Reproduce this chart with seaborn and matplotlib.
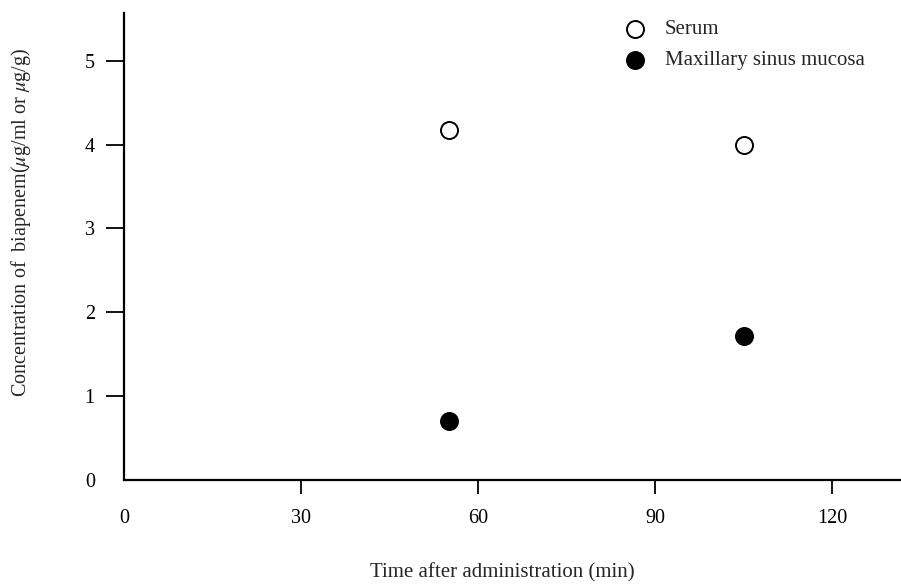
import matplotlib
matplotlib.use('Agg')
import matplotlib.pyplot as plt
import seaborn as sns
import pandas as pd

# values
time_min = [55, 105]
serum = [4.18, 3.99]
mucosa = [0.70, 1.72]
x_ticks = [0, 30, 60, 90, 120]
y_ticks = [0, 1, 2, 3, 4, 5]

sns.set_style('ticks')
plt.rcParams['font.family'] = ['Liberation Serif', 'DejaVu Serif']
plt.rcParams['mathtext.fontset'] = 'stix'

df = pd.DataFrame({'time': time_min * 2,
                   'conc': serum + mucosa,
                   'kind': ['Serum'] * 2 + ['Maxillary sinus mucosa'] * 2})

fig = plt.figure(figsize=(9.01, 5.85), dpi=100)
ax = fig.add_axes([124 / 901, 1 - 480 / 585, 776 / 901, 467 / 585])

sns.scatterplot(data=df[df.kind == 'Serum'], x='time', y='conc', ax=ax,
                marker='o', s=150, facecolor='white', edgecolor='black',
                linewidth=1.4, label='Serum')
sns.scatterplot(data=df[df.kind == 'Maxillary sinus mucosa'], x='time', y='conc', ax=ax,
                marker='o', s=150, color='black', edgecolor='black',
                linewidth=1.4, label='Maxillary sinus mucosa')

ax.set_xlim(0, 131.5)
ax.set_ylim(0, 5.57)
ax.set_xticks(x_ticks)
ax.set_yticks(y_ticks)
ax.tick_params(axis='both', colors='black', labelsize=14.5, width=1.3, direction='out')
ax.tick_params(axis='y', length=13, pad=8)
ax.tick_params(axis='x', length=10, pad=11)
ax.xaxis.get_major_ticks()[0].tick1line.set_visible(False)
ax.yaxis.get_major_ticks()[0].tick1line.set_visible(False)

for side in ['top', 'right']:
    ax.spines[side].set_visible(False)
for side in ['left', 'bottom']:
    ax.spines[side].set_linewidth(1.6)
    ax.spines[side].set_color('black')

ax.set_xlabel('Time after administration (min)', fontsize=15)
ax.set_ylabel(r'Concentration of  biapenem($\mu$g/ml or $\mu$g/g)', fontsize=14.5)
ax.xaxis.set_label_coords((502 - 124) / 776, -(563 - 480) / 467)
ax.yaxis.set_label_coords(-(124 - 33) / 776, (480 - 222) / 467)

leg = ax.legend(loc='upper left', bbox_to_anchor=(600 / 901, 1 - 5 / 585),
                bbox_transform=fig.transFigure, frameon=False, fontsize=15,
                handletextpad=0.4, labelspacing=0.55, borderpad=0.2)

fig.savefig('out.png', dpi=100)
